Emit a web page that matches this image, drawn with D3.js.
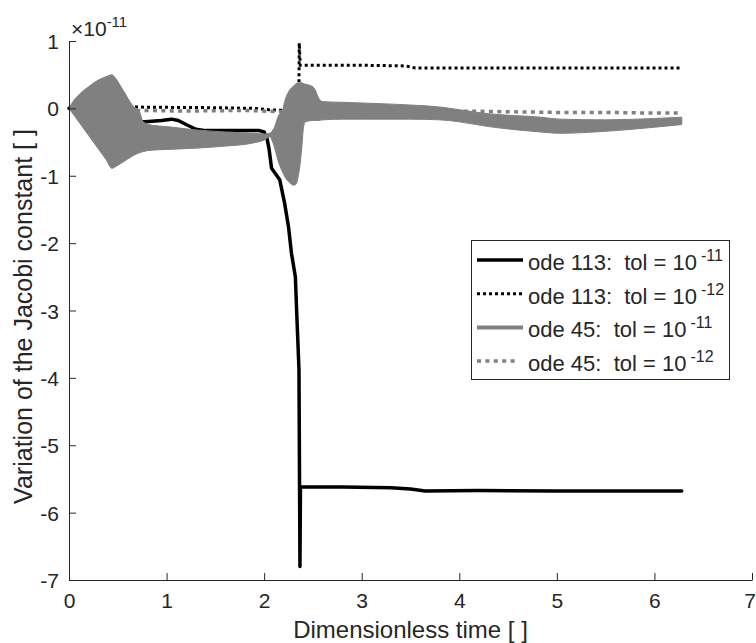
<!DOCTYPE html>
<html><head><meta charset="utf-8">
<script src="https://cdn.jsdelivr.net/npm/d3@7"></script>
<style>
body{margin:0;background:#fff}
svg text{font-family:"Liberation Sans",Arial,Helvetica,sans-serif;fill:#262626;white-space:pre}
</style>
</head><body>
<svg id="chart" width="756" height="643"></svg>
<script>
// ---- data (values in units of 1e-11) ----
const xTickValues = [0,1,2,3,4,5,6,7];
const yTickValues = [-7,-6,-5,-4,-3,-2,-1,0,1];
const xLabel = "Dimensionless time [ ]";
const yLabel = "Variation of the Jacobi constant [ ]";

// ode 113, tol = 1e-11 (black solid)
const t113a = [0,0.3,0.6,0.78,0.95,1.05,1.12,1.2,1.3,1.4,1.7,1.95,2.0,2.03,2.05,2.076,2.16,2.21,2.25,2.28,2.32,2.333,2.357,2.367,2.372,2.8,3.3,3.5,3.65,4.2,5.0,5.6,6.28];
const v113a = [0,-0.1,-0.2,-0.2,-0.18,-0.16,-0.18,-0.24,-0.31,-0.33,-0.33,-0.33,-0.35,-0.45,-0.6,-0.89,-1.06,-1.41,-1.76,-2.15,-2.5,-3.0,-3.88,-6.8,-5.62,-5.62,-5.63,-5.65,-5.68,-5.67,-5.68,-5.68,-5.68];

// ode 113, tol = 1e-12 (black dotted)
const t113b = [0,0.3,0.66,1.0,1.5,1.9,2.05,2.2,2.355,2.36,2.37,2.6,3.0,3.45,3.55,4.5,5.5,6.26];
const v113b = [0,0.01,0.02,0.015,0.01,0.0,-0.02,-0.03,-0.03,0.97,0.64,0.64,0.64,0.63,0.6,0.6,0.6,0.6];

// ode 45, tol = 1e-11 (grey, fast oscillation -> upper/lower envelope)
const t45a = [0,0.05,0.1,0.2,0.3,0.38,0.44,0.47,0.55,0.66,0.72,0.76,0.85,1.0,1.3,1.6,1.9,2.0,2.06,2.08,2.1,2.15,2.19,2.21,2.26,2.3,2.33,2.35,2.37,2.39,2.4,2.42,2.5,2.52,2.56,2.6,2.8,3.0,3.5,3.8,4.0,4.3,4.6,4.83,5.03,5.5,6.0,6.28];
const up45a = [0,0.12,0.2,0.32,0.42,0.47,0.5,0.46,0.28,0.03,-0.04,-0.2,-0.25,-0.27,-0.32,-0.35,-0.37,-0.38,-0.37,-0.34,-0.3,-0.1,-0.02,0.1,0.27,0.33,0.37,0.38,0.38,0.38,0.37,0.36,0.32,0.28,0.15,0.1,0.09,0.08,0.05,0.02,-0.02,-0.08,-0.11,-0.13,-0.16,-0.17,-0.15,-0.13];
const lo45a = [0,-0.1,-0.2,-0.4,-0.6,-0.76,-0.89,-0.87,-0.8,-0.7,-0.66,-0.64,-0.62,-0.61,-0.59,-0.56,-0.51,-0.47,-0.42,-0.47,-0.55,-0.81,-0.95,-1.01,-1.1,-1.14,-1.12,-1.0,-0.81,-0.5,-0.32,-0.2,-0.18,-0.18,-0.18,-0.17,-0.16,-0.16,-0.16,-0.17,-0.2,-0.27,-0.32,-0.35,-0.37,-0.34,-0.28,-0.24];

// ode 45, tol = 1e-12 (grey dotted)
const t45b = [0,0.7,1.2,1.8,2.2,2.6,3.0,3.5,4.0,4.5,5.0,5.5,6.0,6.28];
const v45b = [0,-0.03,-0.04,-0.03,-0.05,-0.05,-0.04,-0.03,-0.04,-0.05,-0.06,-0.06,-0.07,-0.07];

const legendLabels = ["ode 113:  tol = 10","ode 113:  tol = 10","ode 45:  tol = 10","ode 45:  tol = 10"];
const legendExponents = ["-11","-12","-11","-12"];
const axisExponent = "-11";

// ---- layout ----
const svg = d3.select("#chart");
const L = 69, R = 752, T = 41, B = 580;
const x = d3.scaleLinear().domain([0,7]).range([L,R]);
const y = d3.scaleLinear().domain([-7,1]).range([B,T]);
const axisCol = "#262626";

const toPts = (ts, vs) => ts.map((t,i)=>[t, vs[i]]);
const line = d3.line().x(d=>x(d[0])).y(d=>y(d[1]));

const styles = [
  {stroke:"#000000", width:3.5, dash:null},
  {stroke:"#000000", width:3, dash:"3,3"},
  {stroke:"#808080", width:4, dash:null},
  {stroke:"#808080", width:3.5, dash:"4,4.4"}
];

const g = svg.append("g");
g.append("path").datum(toPts(t113a,v113a)).attr("d",line)
  .attr("fill","none").attr("stroke",styles[0].stroke).attr("stroke-width",styles[0].width)
  .attr("stroke-linejoin","round").attr("stroke-linecap","round");
g.append("path").datum(toPts(t113b,v113b)).attr("d",line)
  .attr("fill","none").attr("stroke",styles[1].stroke).attr("stroke-width",styles[1].width)
  .attr("stroke-dasharray",styles[1].dash);
const area = d3.area().x((d,i)=>x(t45a[i])).y0((d,i)=>y(lo45a[i])).y1((d,i)=>y(up45a[i])).curve(d3.curveMonotoneX);
g.append("path").datum(t45a).attr("d",area).attr("fill","#808080").attr("stroke","#808080").attr("stroke-width",1);
g.append("path").datum(toPts(t45b,v45b)).attr("d",line)
  .attr("fill","none").attr("stroke",styles[3].stroke).attr("stroke-width",styles[3].width)
  .attr("stroke-dasharray",styles[3].dash);

// ---- axes ----
const xAxis = d3.axisBottom(x).tickValues(xTickValues).tickSizeInner(-7).tickSizeOuter(0).tickPadding(13).tickFormat(d3.format("d"));
const yAxis = d3.axisLeft(y).tickValues(yTickValues).tickSizeInner(-7).tickSizeOuter(0).tickPadding(10).tickFormat(d=>d<0?"-"+Math.abs(d):String(d));
const gx = svg.append("g").attr("transform",`translate(0,${B})`).call(xAxis);
const gy = svg.append("g").attr("transform",`translate(${L},0)`).call(yAxis);
[gx,gy].forEach(a=>{
  a.select(".domain").attr("stroke",axisCol).attr("stroke-width",1);
  a.selectAll(".tick line").attr("stroke",axisCol).attr("stroke-width",1);
  a.selectAll(".tick text").attr("fill",axisCol).style("font-size","21px").attr("font-family",null);
});
gy.selectAll(".tick text").attr("dy","0.36em");
gx.selectAll(".tick text").filter(d=>d===7).attr("dx",-2.5);

// axis labels
svg.append("text").attr("x",(L+R)/2).attr("y",638).attr("text-anchor","middle")
  .style("font-size","24px").text(xLabel);
svg.append("text").attr("transform",`translate(32,${(T+B)/2+6}) rotate(-90)`).attr("text-anchor","middle")
  .style("font-size","25px").text(yLabel);

// exponent
const ex = svg.append("text").attr("x",71).attr("y",36).style("font-size","21px");
ex.append("tspan").text("\u00d710");
ex.append("tspan").attr("dy",-9).style("font-size","15px").text(axisExponent);

// ---- legend ----
const lg = svg.append("g");
lg.append("rect").attr("x",471.5).attr("y",240.5).attr("width",258).attr("height",139)
  .attr("fill","#fff").attr("stroke",axisCol).attr("stroke-width",1);
legendLabels.forEach((lab,i)=>{
  const cy = 260 + i*33.7;
  const st = styles[i];
  lg.append("line").attr("x1",477).attr("x2", i===3?519:523).attr("y1",cy).attr("y2",cy)
    .attr("stroke",st.stroke).attr("stroke-width",st.width).attr("stroke-dasharray",st.dash);
  const tx = lg.append("text").attr("x",528).attr("y",cy+10).style("font-size","22px");
  tx.append("tspan").text(lab);
  tx.append("tspan").attr("dx",4).attr("dy",-9).style("font-size","16px").text(legendExponents[i]);
});
</script>
</body></html>
